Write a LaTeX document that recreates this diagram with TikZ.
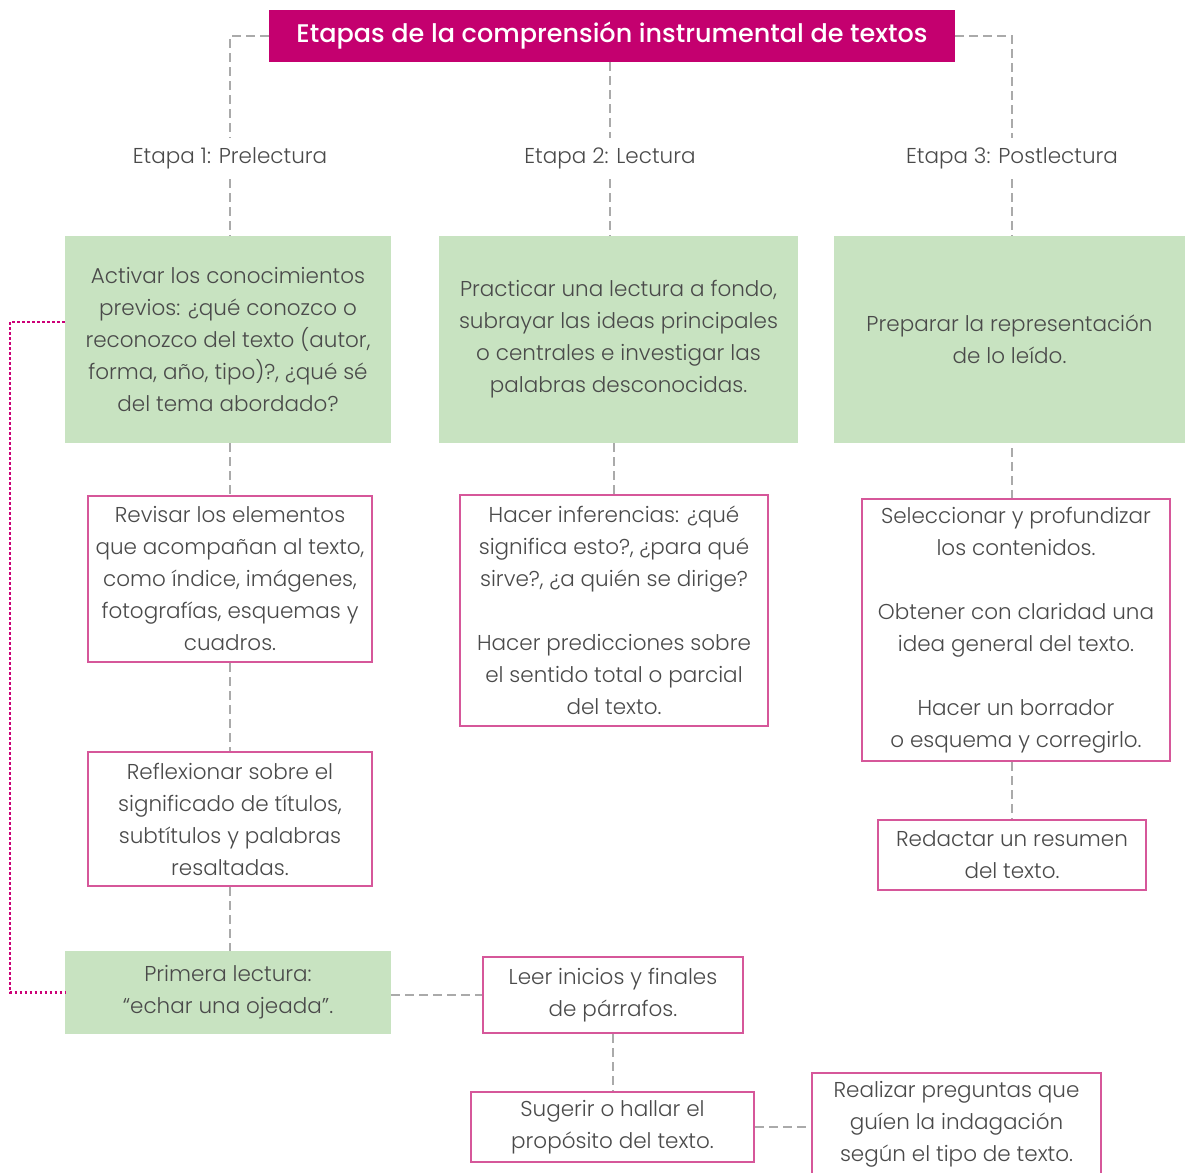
\documentclass[tikz,border=0pt]{standalone}
\usepackage{fontspec}
\setmainfont{Poppins}[UprightFont=* Light, BoldFont=* Medium]
\definecolor{titlemag}{HTML}{C4006F}
\definecolor{boxgreen}{HTML}{C8E3C1}
\definecolor{boxpink}{HTML}{D6579A}
\definecolor{linegray}{HTML}{AAAAAA}
\definecolor{dotpink}{HTML}{CC0077}
\definecolor{textgray}{HTML}{4A4A4A}
\tikzset{
 txt/.style={font=\fontsize{21.5}{32}\selectfont, text=textgray, align=center, inner sep=0pt},
 greenbox/.style={txt, fill=boxgreen, draw=none},
 pinkbox/.style={txt, draw=boxpink, line width=2.5pt, fill=white},
 stagelabel/.style={txt, inner sep=10pt},
 conn/.style={draw=linegray, line width=2.5pt, dash pattern=on 9pt off 5pt},
 dotconn/.style={draw=dotpink, line width=2.5pt, dash pattern=on 2.5pt off 2.5pt},
}
\begin{document}
\begin{tikzpicture}[x=1pt,y=-1pt]
\useasboundingbox (0,0) rectangle (1185,1172);
\clip (0,0) rectangle (1185,1172);
% title
\node[fill=titlemag, text=white, font=\fontsize{25.5}{32}\bfseries, minimum width=686, minimum height=52, inner sep=0pt] (title) at (612,36) {Etapas de la comprensión instrumental de textos};
% stage labels
\node[stagelabel] (e1) at (230,158.5) {Etapa 1: Prelectura};
\node[stagelabel] (e2) at (610,158.5) {Etapa 2: Lectura};
\node[stagelabel] (e3) at (1012,158.5) {Etapa 3: Postlectura};
% green boxes
\node[greenbox, minimum width=326, minimum height=207] (g1) at (228,339.5) {Activar los conocimientos\\ previos: ¿qué conozco o\\ reconozco del texto (autor,\\ forma, año, tipo)?, ¿qué sé\\ del tema abordado?};
\node[greenbox, minimum width=359, minimum height=207] (g2) at (618.5,339.5) {Practicar una lectura a fondo,\\ subrayar las ideas principales\\ o centrales e investigar las\\ palabras desconocidas.};
\node[greenbox, minimum width=351, minimum height=207] (g3) at (1009.5,339.5) {Preparar la representación\\ de lo leído.};
\node[greenbox, minimum width=326, minimum height=83] (g1c) at (228,992.5) {Primera lectura:\\ “echar una ojeada”.};
% pink boxes
\node[pinkbox, minimum width=284, minimum height=166] (p1a) at (230,579) {Revisar los elementos\\ que acompañan al texto,\\ como índice, imágenes,\\ fotografías, esquemas y\\ cuadros.};
\node[pinkbox, minimum width=284, minimum height=134] (p1b) at (230,819) {Reflexionar sobre el\\ significado de títulos,\\ subtítulos y palabras\\ resaltadas.};
\node[pinkbox, minimum width=308, minimum height=231] (p2a) at (614,610.5) {Hacer inferencias: ¿qué\\ significa esto?, ¿para qué\\ sirve?, ¿a quién se dirige?\\[32pt] Hacer predicciones sobre\\ el sentido total o parcial\\ del texto.};
\node[pinkbox, minimum width=260, minimum height=76] (p2b) at (613,995) {Leer inicios y finales\\ de párrafos.};
\node[pinkbox, minimum width=283, minimum height=70] (p2c) at (612.5,1127) {Sugerir o hallar el\\ propósito del texto.};
\node[pinkbox, minimum width=289, minimum height=102] (p2d) at (956.5,1124) {Realizar preguntas que\\ guíen la indagación\\ según el tipo de texto.};
\node[pinkbox, minimum width=308, minimum height=262] (p3a) at (1016,630) {Seleccionar y profundizar\\ los contenidos.\\[32pt] Obtener con claridad una\\ idea general del texto.\\[32pt] Hacer un borrador\\ o esquema y corregirlo.};
\node[pinkbox, minimum width=268, minimum height=70] (p3b) at (1012,855) {Redactar un resumen\\ del texto.};
% connectors
\draw[conn] (title.west) -| (e1.north);
\draw[conn] (title.east) -| (e3.north);
\draw[conn] (title.south -| e2.north) -- (e2.north);
\draw[conn] (e1.south) -- (e1.south |- g1.north);
\draw[conn] (e2.south) -- (e2.south |- g2.north);
\draw[conn] (e3.south) -- (e3.south |- g3.north);
\draw[conn] (p1a.north |- g1.south) -- (p1a.north);
\draw[conn] (p1a.south) -- (p1b.north);
\draw[conn] (p1b.south) -- (p1b.south |- g1c.north);
\draw[conn] (p2a.north |- g2.south) -- (p2a.north);
\draw[conn] ([yshift=-5pt]g3.south -| p3b.north) -- (p3b.north |- p3a.north);
\draw[conn] (p3a.south -| p3b.north) -- (p3b.north);
\draw[conn] (p2b.west -| g1c.east) -- (p2b.west);
\draw[conn] (p2b.south) -- (p2b.south |- p2c.north);
\draw[conn] (p2c.east) -- (p2c.east -| p2d.west);
\draw[dotconn] ([yshift=17.5pt]g1.west) -- (10,322) |- (g1c.west);
\end{tikzpicture}
\end{document}
